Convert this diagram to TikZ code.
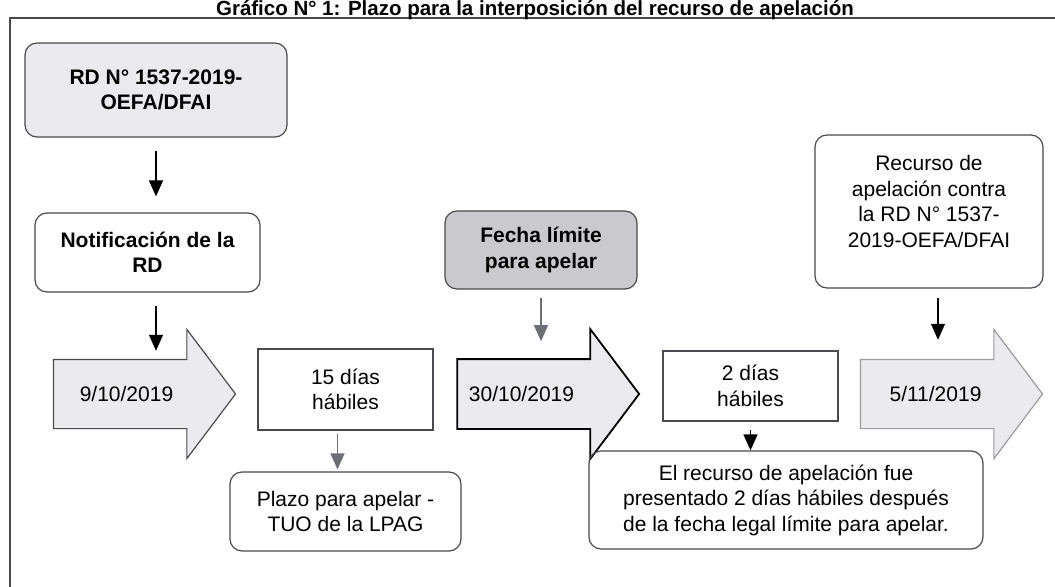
\documentclass[tikz,border=0pt]{standalone}
\usepackage{fontspec}
\setmainfont{Liberation Sans}
\usetikzlibrary{arrows.meta,shapes.arrows,calc}

\definecolor{boxgray}{HTML}{EBEBEF}
\definecolor{limgray}{HTML}{C9C9CE}
\definecolor{linegray}{HTML}{6E6E76}
\definecolor{edgegray}{HTML}{4A4A50}
\definecolor{lightedge}{HTML}{9A9AA0}

\newcommand{\diagfont}{\fontsize{21bp}{25.5bp}\selectfont}

\tikzset{
  txt/.style={font=\diagfont, align=center},
  bold/.style={font=\diagfont\bfseries, align=center},
  rbox/.style={draw=edgegray, line width=1.2bp, rounded corners=12bp, inner sep=0pt},
  sbox/.style={draw=edgegray, line width=1.6bp, inner sep=0pt},
  datearrow/.style={single arrow, draw=edgegray, fill=boxgray, line width=1.2bp,
    single arrow head extend=30bp, single arrow tip angle=106,
    text height=15bp, text depth=0bp, inner xsep=0pt, inner ysep=26.5bp,
    minimum height=182bp, font=\diagfont},
  flecha/.style={-{Triangle[width=14bp,length=16bp]}, line width=1.2bp, black},
  flechagris/.style={flecha, linegray}
}

\begin{document}
\begin{tikzpicture}[x=1bp,y=-1bp]
  \useasboundingbox (0,0) rectangle (1055,587);
  % marco y titulo
  \draw[edgegray, line width=1.3bp] (10,587) -- (10,18) -- (1055,18);
  \node[font=\fontsize{20.5bp}{22bp}\selectfont\bfseries, anchor=base] (titulo) at (535,15.5)
    {Gráfico N° 1: Plazo para la interposición del recurso de apelación};

  % columna izquierda
  \node[rbox, bold, fill=boxgray, minimum width=262bp, minimum height=94bp] (rd) at (156,90)
    {RD N° 1537-2019-\\OEFA/DFAI};
  \node[rbox, bold, fill=white, minimum width=225bp, minimum height=79bp] (notif) at (147.5,252.5)
    {Notificación de la\\RD};
  \node[rbox, bold, fill=limgray, minimum width=192bp, minimum height=78bp] (fecha) at (541,250)
    {Fecha límite\\para apelar};
  \node[rbox, txt, fill=white, minimum width=228bp, minimum height=153bp, text depth=20bp] (recurso) at (929,211.5)
    {Recurso de\\apelación contra\\la RD N° 1537-\\2019-OEFA/DFAI};

  % fechas
  \node[datearrow] (d1) at (131.5,394) {9/10/2019\hspace*{10bp}};
  \node[datearrow, draw=black, line width=1.8bp] (d2) at (535,394) {30/10/2019\hspace*{27bp}};
  \node[datearrow, draw=lightedge] (d3) at (938.5,394) {5/11/2019\hspace*{6bp}};

  % plazos
  \node[sbox, txt, minimum width=175bp, minimum height=81bp] (quince) at (345.5,389.5) {15 días\\hábiles};
  \node[sbox, txt, minimum width=175bp, minimum height=70bp] (dos) at (750.5,386) {2 días\\hábiles};

  \node[rbox, txt, minimum width=231bp, minimum height=79bp] (plazo) at (345.5,511.5)
    {Plazo para apelar -\\TUO de la LPAG};
  \node[rbox, txt, minimum width=394bp, minimum height=98bp] (fuera) at (786,500)
    {El recurso de apelación fue\\presentado 2 días hábiles después\\de la fecha legal límite para apelar.};

  % flechas
  \draw[flecha, shorten <=13bp, shorten >=16bp] (rd.south) -- (notif.north -| rd.south);
  \draw[flecha, shorten <=13bp, shorten >=8bp] (notif.south -| rd.south) -- (rd.south |- d1.north);
  \draw[flechagris, shorten <=8bp, shorten >=17bp] (fecha.south) -- (fecha.south |- d2.north);
  \draw[flechagris, shorten <=3bp, shorten >=2bp] ([xshift=-8bp]quince.south) -- ([xshift=-8bp]quince.south |- plazo.north);
  \draw[flecha, shorten >=0bp] ([yshift=-8bp]dos.south) -- (dos.south |- fuera.north);
  \draw[flecha, shorten <=9bp, shorten >=19bp] ([xshift=9bp]recurso.south) -- ([xshift=9bp]recurso.south |- d3.north);
\end{tikzpicture}
\end{document}
